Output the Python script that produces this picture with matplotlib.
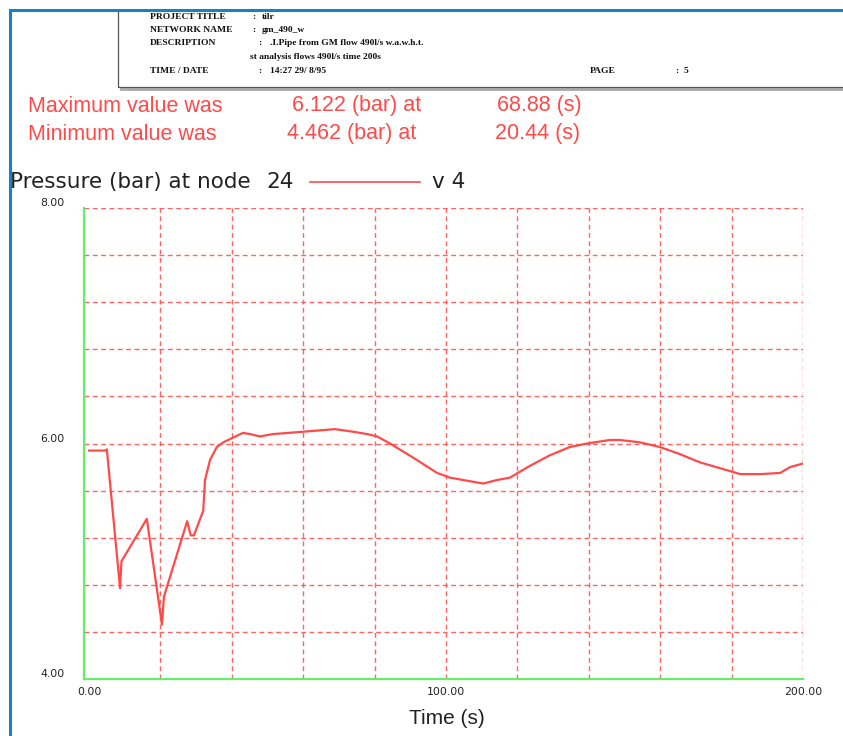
import matplotlib
matplotlib.use("Agg")
import matplotlib.pyplot as plt
from matplotlib.lines import Line2D
import numpy as np

# ---- data ----
time_s = [0, 4.5, 5.0, 8.7, 9.1, 16.2, 20.44, 21.0, 27.5, 28.5, 29.4, 32.0, 32.5,
          33.9, 35.8, 37.6, 40.4, 43.1, 45.1, 47.9, 51.5, 60.0, 68.88, 74.0, 77.9,
          80.7, 84.3, 90.8, 97.5, 101.1, 104.8, 110.4, 114.3, 117.9, 123.5, 129.1,
          134.7, 139.5, 145.9, 148.7, 154.3, 159.9, 165.5, 171.1, 176.8, 182.4,
          188.0, 193.6, 196.4, 200.0]
pressure_bar = [5.94, 5.94, 5.95, 4.77, 5.00, 5.36, 4.462, 4.70, 5.34, 5.22, 5.22,
                5.43, 5.69, 5.86, 5.97, 6.01, 6.05, 6.09, 6.08, 6.06, 6.08, 6.10,
                6.122, 6.10, 6.08, 6.06, 6.00, 5.88, 5.75, 5.71, 5.69, 5.66, 5.69,
                5.71, 5.81, 5.90, 5.97, 6.00, 6.03, 6.03, 6.01, 5.97, 5.91, 5.84,
                5.79, 5.74, 5.74, 5.75, 5.80, 5.83]
x_major = [0, 100, 200]
x_labels = ["0.00", "100.00", "200.00"]
y_major = [4, 6, 8]
y_labels = ["4.00", "6.00", "8.00"]
x_grid = [20, 40, 60, 80, 100, 120, 140, 160, 180, 200]
y_grid = [4.4, 4.8, 5.2, 5.6, 6.0, 6.4, 6.8, 7.2, 7.6, 8.0]

header_lines = [
    ("PROJECT TITLE", ":", "tilr"),
    ("NETWORK NAME", ":", "gm_490_w"),
    ("DESCRIPTION", ":", ".I.Pipe from GM flow 490l/s w.a.w.h.t."),
    ("", "", "st analysis flows 490l/s time 200s"),
    ("TIME / DATE", ":", "14:27 29/ 8/95"),
]

W, H = 843, 736
fig = plt.figure(figsize=(W / 100, H / 100), dpi=100)
fig.patch.set_facecolor("white")

def fx(px):
    return px / W

def fy(py):
    return 1 - py / H

RED = "#ff4a4a"
GREEN = "#66ee66"

# header box borders (left + bottom, with grey shadow)
fig.add_artist(Line2D([fx(121), fx(850)], [fy(89), fy(89)], color="#a8a8a8", lw=2.0, zorder=1))
fig.add_artist(Line2D([fx(118), fx(118), fx(850)], [fy(11), fy(87), fy(87)],
                      color="#555555", lw=0.9, zorder=2))

# blue outer border
fig.add_artist(Line2D([fx(10), fx(10)], [fy(10), fy(740)], color="#1a7fc4", lw=2.2, zorder=5))
fig.add_artist(Line2D([fx(10), fx(850)], [fy(10), fy(10)], color="#1a7fc4", lw=2.2, zorder=5))

hdr = dict(family="Liberation Serif", weight="bold", fontsize=6.8, color="#111111",
           va="center", ha="left", zorder=3)
ys = [17, 30, 43, 57, 71]
for (lab, col, val), y in zip(header_lines, ys):
    if lab:
        fig.text(fx(150), fy(y), lab, **hdr)
        cx = 252 if lab in ("PROJECT TITLE", "NETWORK NAME") else 258
        vx = 262 if lab in ("PROJECT TITLE", "NETWORK NAME") else 270
        fig.text(fx(cx), fy(y), col, **hdr)
        fig.text(fx(vx), fy(y), val, **hdr)
    else:
        fig.text(fx(250), fy(y), val, **hdr)
fig.text(fx(590), fy(71), "PAGE", **hdr)
fig.text(fx(676), fy(71), ":  5", **hdr)

# max / min text
rt = dict(family="Liberation Sans", fontsize=15.5, color=RED, va="center", ha="left")
fig.text(fx(28), fy(106), "Maximum value was", **rt)
fig.text(fx(292), fy(106), "6.122 (bar) at", **rt)
fig.text(fx(497), fy(106), "68.88 (s)", **rt)
fig.text(fx(28), fy(134), "Minimum value was", **rt)
fig.text(fx(287), fy(134), "4.462 (bar) at", **rt)
fig.text(fx(495), fy(134), "20.44 (s)", **rt)

# legend-like title
bt = dict(family="DejaVu Sans", fontsize=15.5, color="#222222", va="center", ha="left")
fig.text(fx(10), fy(182), "Pressure (bar) at node", **bt)
fig.text(fx(266), fy(182), "24", **bt)
fig.add_artist(Line2D([fx(310), fx(420)], [fy(182), fy(182)], color=RED, lw=1.2))
fig.text(fx(432), fy(182), "v 4", **bt)

# axes
ax = fig.add_axes([fx(84), fy(679), fx(803) - fx(84), fy(208) - fy(679)])
ax.plot(time_s, pressure_bar, color=RED, lw=1.6, zorder=3)
ax.set_xlim(-1.4, 200)
ax.set_ylim(4, 8)

ax.set_xticks(x_major)
ax.set_xticklabels(x_labels)
ax.set_yticks(y_major)
ax.set_yticklabels(y_labels)
ax.set_xticks(x_grid, minor=True)
ax.set_yticks(y_grid, minor=True)
ax.xaxis.remove_overlapping_locs = False
ax.yaxis.remove_overlapping_locs = False
ax.tick_params(which="both", length=0)
ax.tick_params(axis="x", pad=6, labelsize=7.8, labelcolor="#222222")
ax.tick_params(axis="y", pad=14, labelsize=7.8, labelcolor="#222222")
for lbl in ax.get_yticklabels():
    lbl.set_verticalalignment("bottom")
ax.grid(False, which="major")
ax.grid(True, which="minor", color=RED, ls=(0, (3.5, 2.5)), lw=1.0, alpha=0.85)

for s in ("top", "right"):
    ax.spines[s].set_visible(False)
for s in ("left", "bottom"):
    ax.spines[s].set_color(GREEN)
    ax.spines[s].set_linewidth(1.6)
    ax.spines[s].set_zorder(4)

fig.text(fx(447), fy(718), "Time (s)", family="Liberation Sans", fontsize=15,
         color="#222222", ha="center", va="center")

fig.savefig("out.png", dpi=100, facecolor="white")
